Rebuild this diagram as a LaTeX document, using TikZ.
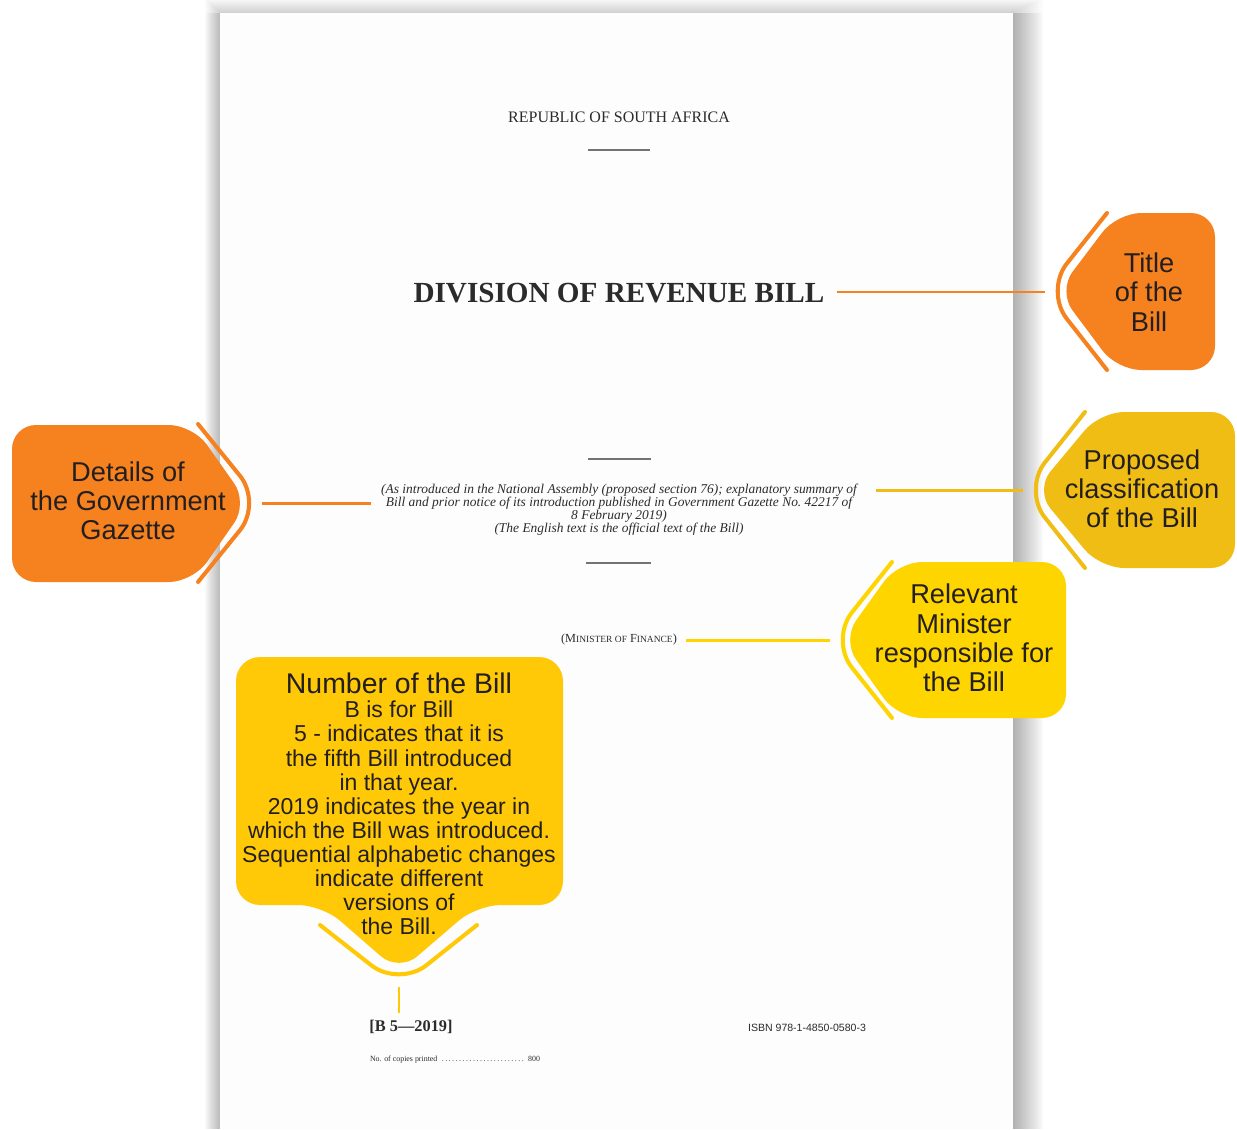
\documentclass[tikz,border=0pt]{standalone}
\usepackage{fontspec}
\setmainfont{Liberation Serif}
\newfontfamily\calloutfont{Liberation Sans}
\usetikzlibrary{positioning}

\definecolor{billorange}{HTML}{F5821F}
\definecolor{billgold}{HTML}{F0BD14}
\definecolor{billyellow}{HTML}{FFD500}
\definecolor{billamber}{HTML}{FFC907}
\definecolor{calltxt}{HTML}{231F20}
\definecolor{pageink}{HTML}{2B2B2B}
\definecolor{pagewhite}{HTML}{FDFDFD}

\newcommand{\minsc}[1]{{\fontsize{5.4}{6}\selectfont #1}}

\tikzset{
  callout/.style={rounded corners=0.48cm},
  bracket/.style={line width=2.3pt, rounded corners=0.7cm, line cap=round},
  link/.style={line width=1.7pt},
  calltext/.style={font=\calloutfont\fontsize{15.5}{16.6}\selectfont, align=center, text=calltxt, inner sep=0pt},
  pagetext/.style={text=pageink, inner sep=0pt, align=center},
  pagerule/.style={draw=black!55, line width=0.8pt}
}

\begin{document}
\begin{tikzpicture}[x=0.02cm, y=-0.02cm]
\useasboundingbox (0,0) rectangle (1237,1129);

% page and its shadow
\foreach \k in {1,...,15} {
  \fill[black, opacity=0.018] (220-\k,13) rectangle (220,1129);
  \fill[black, opacity=0.022] (1013,13) rectangle (1013+2*\k,1129);
  \fill[black, opacity=0.012] (220-\k,13-\k) rectangle (1013+2*\k,13);
}
\fill[pagewhite] (220,13) rectangle (1013,1129);

% text of the bill
\node[pagetext, font=\fontsize{9.1}{10}\selectfont] (republic) at (619,117) {REPUBLIC OF SOUTH AFRICA};
\draw[pagerule] (588,150) -- (650,150);
\node[pagetext, font=\bfseries\fontsize{16.6}{18}\selectfont] (billtitle) at (619,293) {DIVISION OF REVENUE BILL};
\draw[pagerule] (588,459) -- (651,459);
\node[pagetext, font=\itshape\fontsize{7.65}{7.37}\selectfont] (gazette) at (619,510) {(As introduced in the National Assembly (proposed section 76); explanatory summary of\\Bill and prior notice of its introduction published in Government Gazette No.~42217 of\\8 February 2019)\\(The English text is the official text of the Bill)};
\draw[pagerule] (586,563) -- (651,563);
\node[pagetext, font=\fontsize{7}{8}\selectfont] (minister) at (619,640) {(M\minsc{INISTER OF} F\minsc{INANCE})};
\node[pagetext, font=\bfseries\fontsize{9.3}{10}\selectfont] (billno) at (411,1027) {[B 5---2019]};
\node[pagetext, font=\fontsize{4.5}{5}\selectfont] (copies) at (455,1060) {\makebox[3.4cm]{No. of copies printed \dotfill{} 800}};
\node[pagetext, font=\calloutfont\fontsize{6}{7}\selectfont] (isbn) at (807,1028) {ISBN 978-1-4850-0580-3};

% title of the bill
\fill[billorange, callout] (1117,213) -- (1215,213) -- (1215,370) -- (1117,370) -- (1058,291) -- cycle;
\draw[billorange, bracket] (1107,213) -- (1045,291) -- (1107,370);
\coordinate (titletip) at (1045,292);
\node[calltext] (titlelbl) at (1149,292) {Title\\of the\\Bill};
\draw[billorange, link, shorten <=0.24cm] (titletip -| billtitle.east) -- (titletip);

% government gazette
\fill[billorange, callout] (12,425) -- (193,425) -- (248,503) -- (193,582) -- (12,582) -- cycle;
\draw[billorange, bracket] (198,424) -- (262,503) -- (198,582);
\coordinate (gazettetip) at (262,503);
\node[calltext] (gazettelbl) at (128,501) {Details of\\the Government\\Gazette};
\draw[billorange, link, shorten <=0.2cm] (gazettetip -| gazette.west) -- (gazettetip);

% proposed classification
\fill[billgold, callout] (1100,412) -- (1235,412) -- (1235,568) -- (1100,568) -- (1035,490) -- cycle;
\draw[billgold, bracket] (1085,412) -- (1023,490) -- (1085,568);
\coordinate (classtip) at (1023,490);
\node[calltext] (classlbl) at (1142,489) {Proposed\\classification\\of the Bill};
\draw[billgold, link, shorten <=0.38cm] (classtip -| gazette.east) -- (classtip);

% minister
\fill[billyellow, callout] (898,562) -- (1066,562) -- (1066,718) -- (898,718) -- (842,640) -- cycle;
\draw[billyellow, bracket] (892,562) -- (830,640) -- (892,718);
\coordinate (ministertip) at (830,640);
\node[calltext] (ministerlbl) at (964,638) {Relevant\\Minister\\responsible for\\the Bill};
\draw[billyellow, link, shorten <=0.18cm] (ministertip -| minister.east) -- (ministertip);

% number of the bill
\fill[billamber, callout] (236,657) -- (563,657) -- (563,905) -- (477,905) -- (399,972) -- (322,905) -- (236,905) -- cycle;
\draw[billamber, bracket] (320,925) -- (399,987) -- (477,925);
\coordinate (numbertip) at (399,987);
\node[calltext, font=\calloutfont\fontsize{16.2}{18}\selectfont] (numberhead) at (399,683) {Number of the Bill};
\node[calltext, font=\calloutfont\fontsize{13.1}{13.7}\selectfont] (numberbody) at (399,818) {B is for Bill\\5 - indicates that it is\\the fifth Bill introduced\\in that year.\\2019 indicates the year in\\which the Bill was introduced.\\Sequential alphabetic changes\\indicate different\\versions of\\the Bill.};
\draw[billamber, link, shorten >=0.14cm] (numbertip) -- (numbertip |- billno.north);
\end{tikzpicture}
\end{document}
